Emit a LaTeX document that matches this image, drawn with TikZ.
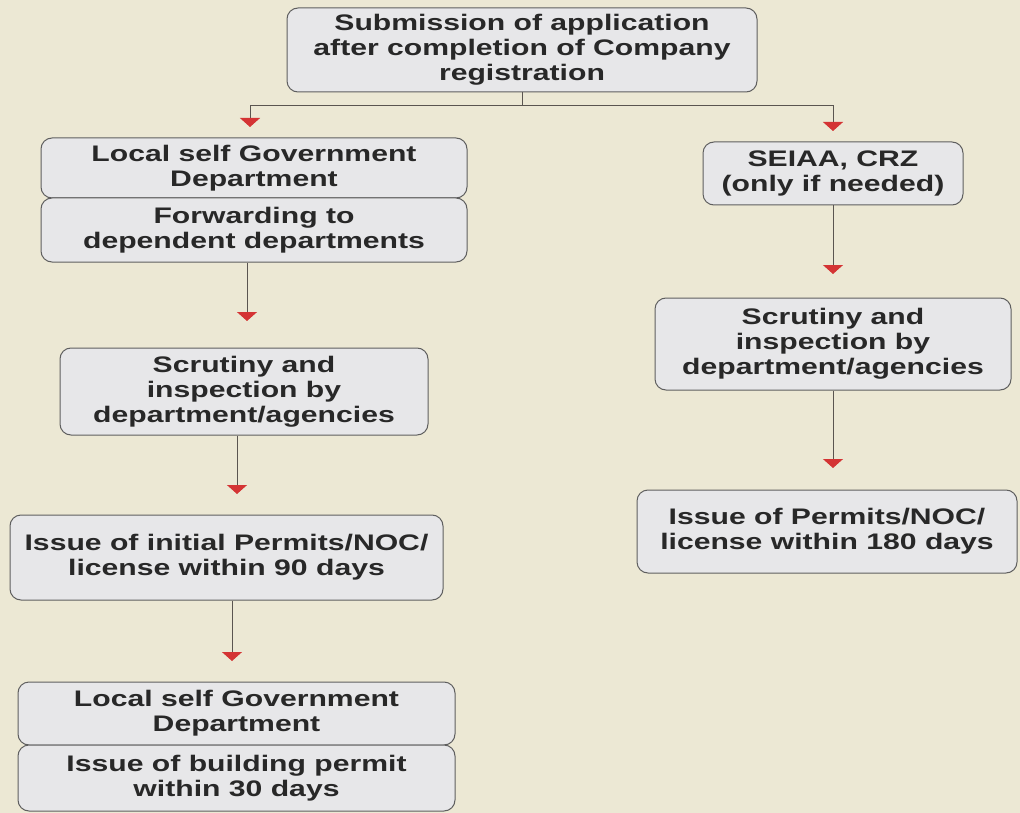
\documentclass[tikz,border=0pt]{standalone}
\usepackage{fontspec}
\setmainfont{Liberation Sans}[FakeStretch=1.34]
\usetikzlibrary{arrows.meta}
\definecolor{bg}{RGB}{236,232,212}
\definecolor{boxfill}{RGB}{231,231,233}
\definecolor{boxline}{RGB}{95,95,95}
\definecolor{lineclr}{RGB}{90,85,80}
\definecolor{arrred}{RGB}{212,52,52}
\definecolor{txt}{RGB}{40,40,40}
\begin{document}
\begin{tikzpicture}[x=1pt,y=-1pt,
  box/.style={draw=boxline, fill=boxfill, rounded corners=11pt, line width=1pt,
    align=center, inner sep=0pt, font=\fontsize{22.5}{25}\selectfont\bfseries, text=txt},
  conn/.style={draw=lineclr, line width=1pt},
  arr/.style={conn, -{Triangle[width=20pt,length=9pt,color=arrred]}}]
\fill[bg] (0,0) rectangle (1020,813);
\useasboundingbox (0,0) rectangle (1020,813);

\node[box, minimum width=470pt, minimum height=84pt] (top) at (522,50)
  {Submission of application\\after completion of Company\\registration};

% left column
\node[box, minimum width=426pt, minimum height=60pt] (l1a) at (254,168)
  {Local self Government\\Department};
\node[box, minimum width=426pt, minimum height=64pt] (l1b) at (254,230)
  {Forwarding to\\dependent departments};
\node[box, minimum width=368pt, minimum height=87pt] (l2) at (244,391.5)
  {Scrutiny and\\inspection by\\department/agencies};
\node[box, minimum width=433pt, minimum height=85pt] (l3) at (226.5,557.5)
  {Issue of initial Permits/NOC/\\license within 90 days};
\node[box, minimum width=437pt, minimum height=63pt] (l4a) at (236.5,713.5)
  {Local self Government\\Department};
\node[box, minimum width=437pt, minimum height=66pt] (l4b) at (236.5,778)
  {Issue of building permit\\within 30 days};

% right column
\node[box, minimum width=260pt, minimum height=63pt] (r1) at (833,173.5)
  {SEIAA, CRZ\\(only if needed)};
\node[box, minimum width=356pt, minimum height=92pt] (r2) at (833,344)
  {Scrutiny and\\inspection by\\department/agencies};
\node[box, minimum width=380pt, minimum height=83pt] (r3) at (827,531.5)
  {Issue of Permits/NOC/\\license within 180 days};

% connectors
\coordinate (tl) at (250,127);
\coordinate (tr) at (833,131);
\draw[conn] (top.south) -- ++(0,13) coordinate (j);
\draw[arr] (j) -| (tl);
\draw[arr] (j) -| (tr);

\coordinate (t2) at (247,321);
\coordinate (t3) at (237,494);
\coordinate (t4) at (232,661);
\draw[arr] (l1b.south -| t2) -- (t2);
\draw[arr] (l2.south -| t3) -- (t3);
\draw[arr] (l3.south -| t4) -- (t4);

\coordinate (s2) at (833,274);
\coordinate (s3) at (833,468);
\draw[arr] (r1.south) -- (s2);
\draw[arr] (r2.south -| s3) -- (s3);
\end{tikzpicture}
\end{document}
